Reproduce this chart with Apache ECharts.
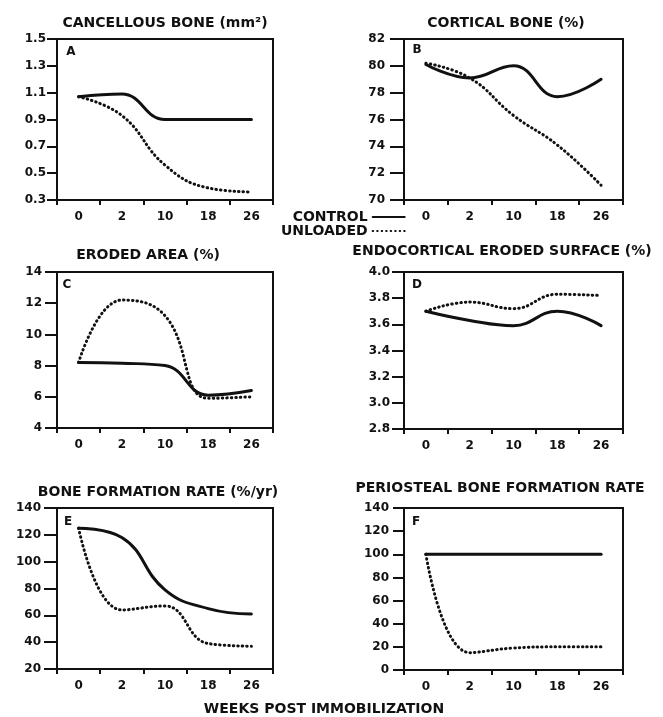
<!DOCTYPE html>
<html>
<head>
<meta charset="utf-8">
<script src="https://cdn.jsdelivr.net/npm/echarts@6/dist/echarts.min.js"></script>
<style>
html,body{margin:0;padding:0;background:#fff;}
#chart{width:663px;height:717px;}
</style>
</head>
<body>
<div id="chart"></div>
<script>
// Shared x categories (weeks post immobilization)
var weeks = ['0', '2', '10', '18', '26'];

// Panel A: Cancellous bone (mm2)
var aControl  = [1.07, 1.09, 0.90, 0.90, 0.90];
var aUnloaded = [1.07, 0.93, 0.56, 0.39, 0.36];
var aTicks = [0.3, 0.5, 0.7, 0.9, 1.1, 1.3, 1.5];

// Panel B: Cortical bone (%)
var bControl  = [80.1, 79.1, 80.0, 77.7, 79.0];
var bUnloaded = [80.2, 79.1, 76.3, 74.1, 71.1];
var bTicks = [70, 72, 74, 76, 78, 80, 82];

// Panel C: Eroded area (%)
var cControl  = [8.2, 8.15, 8.0, 6.1, 6.4];
var cUnloaded = [8.2, 12.2, 11.2, 5.9, 6.0];
var cTicks = [4, 6, 8, 10, 12, 14];

// Panel D: Endocortical eroded surface (%)
var dControl  = [3.70, 3.63, 3.59, 3.70, 3.59];
var dUnloaded = [3.70, 3.77, 3.72, 3.83, 3.82];
var dTicks = [2.8, 3.0, 3.2, 3.4, 3.6, 3.8, 4.0];

// Panel E: Bone formation rate (%/yr)
var eControl  = [125, 118, 79, 65, 61];
var eUnloaded = [125, 64, 67, 39, 37];
var eTicks = [20, 40, 60, 80, 100, 120, 140];

// Panel F: Periosteal bone formation rate
var fControl  = [100, 100, 100, 100, 100];
var fUnloaded = [100, 15, 19, 20, 20];
var fTicks = [0, 20, 40, 60, 80, 100, 120, 140];

var titles = ['CANCELLOUS BONE (mm²)', 'CORTICAL BONE (%)', 'ERODED AREA (%)',
  'ENDOCORTICAL ERODED SURFACE (%)', 'BONE FORMATION RATE (%/yr)', 'PERIOSTEAL BONE FORMATION RATE'];
var letters = ['A', 'B', 'C', 'D', 'E', 'F'];
var xTitle = 'WEEKS POST IMMOBILIZATION';
var seriesNames = ['CONTROL', 'UNLOADED'];

var FONT = 'DejaVu Sans';
var INK = '#111';

var panels = [
  {c: aControl, u: aUnloaded, t: aTicks, dec: 1, grid: {left: 57, top: 39, width: 216, height: 161}, tick: 10, margin: 11, title: [165, 23], letter: [71, 52]},
  {c: bControl, u: bUnloaded, t: bTicks, dec: 0, grid: {left: 404, top: 39, width: 219, height: 161}, tick: 14, margin: 19, title: [506, 23], letter: [417, 50]},
  {c: cControl, u: cUnloaded, t: cTicks, dec: 0, grid: {left: 57, top: 272, width: 216, height: 156}, tick: 12, margin: 15, title: [148, 255], letter: [67, 285]},
  {c: dControl, u: dUnloaded, t: dTicks, dec: 1, grid: {left: 404, top: 272, width: 219, height: 157}, tick: 12, margin: 14, title: [502, 251], letter: [417, 285]},
  {c: eControl, u: eUnloaded, t: eTicks, dec: 0, grid: {left: 57, top: 508, width: 216, height: 161}, tick: 13, margin: 16, title: [158, 492], letter: [68, 522]},
  {c: fControl, u: fUnloaded, t: fTicks, dec: 0, grid: {left: 404, top: 508, width: 219, height: 162}, tick: 11, margin: 15, title: [500, 488], letter: [416, 522]}
];

var grids = [], xAxes = [], yAxes = [], series = [], graphics = [];

panels.forEach(function (p, i) {
  grids.push(Object.assign({show: true, borderColor: INK, borderWidth: 2, backgroundColor: 'transparent', containLabel: false}, p.grid));
  xAxes.push({
    type: 'category', gridIndex: i, data: weeks, boundaryGap: true,
    axisLine: {lineStyle: {color: INK, width: 2}},
    axisTick: {show: true, length: 5, lineStyle: {color: INK, width: 2}},
    axisLabel: {color: INK, fontFamily: FONT, fontWeight: 'bold', fontSize: 12, margin: 11},
    splitLine: {show: false}
  });
  var dec = p.dec;
  yAxes.push({
    type: 'value', gridIndex: i, min: p.t[0], max: p.t[p.t.length - 1],
    axisLine: {show: true, lineStyle: {color: INK, width: 2}},
    axisTick: {show: true, length: p.tick, lineStyle: {color: INK, width: 2}, customValues: p.t},
    axisLabel: {color: INK, fontFamily: FONT, fontWeight: 'bold', fontSize: 12, margin: p.margin,
      customValues: p.t, formatter: function (v) { return Number(v).toFixed(dec); }},
    splitLine: {show: false}
  });
  series.push({
    name: seriesNames[0], type: 'line', xAxisIndex: i, yAxisIndex: i, data: p.c,
    smooth: 0.45, symbol: 'none', silent: true,
    lineStyle: {color: INK, width: 3, cap: 'round', join: 'round'},
    itemStyle: {color: INK}
  });
  series.push({
    name: seriesNames[1], type: 'line', xAxisIndex: i, yAxisIndex: i, data: p.u,
    smooth: 0.45, symbol: 'none', silent: true,
    lineStyle: {color: INK, width: 3, type: [0.5, 4], cap: 'round'},
    itemStyle: {color: INK}
  });
  graphics.push({
    type: 'text', x: p.title[0], y: p.title[1],
    style: {text: titles[i], fill: INK, font: 'bold 14px "DejaVu Sans"',
      textAlign: 'center', textVerticalAlign: 'middle', align: 'center', verticalAlign: 'middle'}
  });
  graphics.push({
    type: 'text', x: p.letter[0], y: p.letter[1],
    style: {text: letters[i], fill: INK, font: 'bold 12px "DejaVu Sans"',
      textAlign: 'center', textVerticalAlign: 'middle', align: 'center', verticalAlign: 'middle'}
  });
});

graphics.push({
  type: 'text', x: 324, y: 709,
  style: {text: xTitle, fill: INK, font: 'bold 14px "DejaVu Sans"',
    textAlign: 'center', textVerticalAlign: 'middle', align: 'center', verticalAlign: 'middle'}
});

var chart = echarts.init(document.getElementById('chart'), null, {renderer: 'canvas'});
chart.setOption({
  animation: false,
  backgroundColor: '#fff',
  grid: grids,
  xAxis: xAxes,
  yAxis: yAxes,
  series: series,
  legend: {
    data: seriesNames, orient: 'vertical', left: 281, top: 210, align: 'right',
    itemGap: 0, itemWidth: 32, itemHeight: 10, padding: 0,
    itemStyle: {opacity: 0},
    textStyle: {color: INK, fontFamily: FONT, fontWeight: 'bold', fontSize: 14},
    selectedMode: false
  },
  graphic: graphics
});
</script>
</body>
</html>
